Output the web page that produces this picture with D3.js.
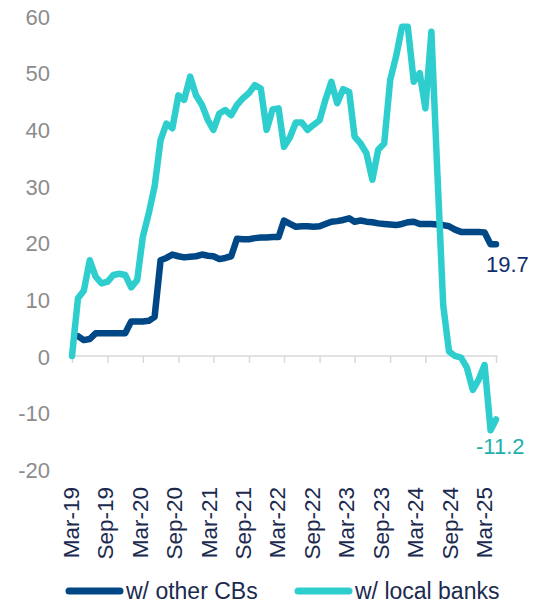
<!DOCTYPE html>
<html>
<head>
	<meta charset="UTF-8">
	<title>Other CBs vs local banks</title>
	<script src="https://cdnjs.cloudflare.com/ajax/libs/d3/7.8.5/d3.min.js"></script>
	<style>
		body { margin: 0; background: #fff; }
		text { font-family: "Liberation Sans", Arial, sans-serif; }
	</style>
</head>
<body>
	<script>
		// monthly series, Mar-19 .. Mar-25
		var start = new Date(2019, 2, 1), end = new Date(2025, 2, 1);
		var months = d3.timeMonths(start, new Date(2025, 3, 1));

		var otherCBs = [null, 3.5, 2.8, 3.0, 4.0, 4.0, 4.0, 4.0, 4.0, 4.0,
			6.1, 6.1, 6.1, 6.2, 6.9, 16.9, 17.3, 17.9, 17.6, 17.4,
			17.5, 17.6, 17.9, 17.7, 17.6, 17.1, 17.3, 17.6, 20.7, 20.6,
			20.6, 20.8, 20.9, 20.9, 21.0, 21.0, 23.9, 23.3, 22.8, 22.9,
			22.9, 22.8, 22.9, 23.3, 23.7, 23.8, 24.0, 24.3, 23.7, 23.9,
			23.7, 23.6, 23.4, 23.3, 23.2, 23.1, 23.3, 23.6, 23.7, 23.3,
			23.3, 23.3, 23.2, 23.1, 22.9, 22.3, 21.9, 21.9, 21.9, 21.9,
			21.8, 19.7, 19.7];

		var localBanks = [0, 10.2, 11.5, 16.9, 14.0, 12.8, 13.1, 14.3, 14.5, 14.3,
			12.1, 13.4, 21.0, 25.2, 29.9, 38.1, 41.0, 40.2, 46.0, 45.2,
			49.3, 46.0, 44.3, 41.6, 39.9, 42.8, 43.4, 42.5, 44.3, 45.5,
			46.4, 47.8, 47.2, 39.9, 43.5, 43.7, 36.9, 38.6, 41.2, 41.2,
			39.9, 40.8, 41.6, 45.2, 48.4, 44.6, 47.1, 46.6, 38.7, 37.5,
			35.8, 31.1, 36.4, 37.5, 48.7, 52.8, 58.1, 58.1, 48.4, 49.9,
			43.7, 57.2, 33.0, 9.0, 0.8, 0.0, -0.3, -2.0, -6.0, -4.2,
			-1.6, -13.1, -11.2];

		var tickLabels = ["Mar-19", "Sep-19", "Mar-20", "Sep-20", "Mar-21", "Sep-21", "Mar-22",
			"Sep-22", "Mar-23", "Sep-23", "Mar-24", "Sep-24", "Mar-25"];
		var yTicks = [-20, -10, 0, 10, 20, 30, 40, 50, 60];

		var seriesNames = ["w/ other CBs", "w/ local banks"];
		var colors = ["#004785", "#2ecece"];

		var W = 533, H = 603;

		var svg = d3.select("body").append("svg")
			.attr("width", W)
			.attr("height", H);

		// scales
		var x = d3.scaleTime().domain([start, end]).range([72, 496]);
		var xLab = d3.scaleTime().domain([start, end]).range([70.5, 484]);
		var y = d3.scaleLinear().domain([-20, 60]).range([469.3, 16]);

		var tickDates = tickLabels.map(function(d) { return d3.timeParse("%b-%y")(d); });

		// y labels
		svg.append("g").selectAll("text")
			.data(yTicks)
			.enter().append("text")
			.attr("x", 50)
			.attr("y", function(d) { return y(d); })
			.attr("dy", "0.4em")
			.attr("text-anchor", "end")
			.style("font-size", "22px")
			.style("fill", "#8c8c8c")
			.text(function(d) { return d; });

		// zero axis
		var axis = svg.append("g")
			.attr("transform", "translate(0," + y(0) + ")")
			.call(d3.axisBottom(x).tickValues(tickDates).tickSize(7).tickSizeOuter(0).tickFormat(""));
		axis.select(".domain").attr("stroke", "#d9d9d9").attr("stroke-width", 1.5)
			.attr("d", "M" + (x(start) - 1) + ",0H" + (x(end) + 1.5));
		axis.selectAll(".tick line").attr("stroke", "#d9d9d9").attr("stroke-width", 1.5);

		// x labels
		svg.append("g").selectAll("text")
			.data(tickDates)
			.enter().append("text")
			.attr("transform", function(d) { return "translate(" + xLab(d) + ",487) rotate(-90)"; })
			.attr("dy", "0.36em")
			.attr("text-anchor", "end")
			.style("font-size", "22.5px")
			.style("fill", "#1b2a4e")
			.text(function(d, i) { return tickLabels[i]; });

		// lines
		[otherCBs, localBanks].forEach(function(vals, k) {
			var line = d3.line()
				.defined(function(d) { return d != null; })
				.x(function(d, i) { return x(months[i]); })
				.y(function(d) { return y(d); });
			svg.append("path")
				.datum(vals)
				.attr("fill", "none")
				.attr("stroke", colors[k])
				.attr("stroke-width", 6.5)
				.attr("stroke-linejoin", "round")
				.attr("stroke-linecap", "round")
				.attr("d", line);
		});

		// end labels
		var last = months.length - 1;
		svg.append("text")
			.attr("x", x(months[last]) - 10)
			.attr("y", y(otherCBs[last]) + 28)
			.style("font-size", "22px")
			.style("fill", "#0f2f6b")
			.text(otherCBs[last].toFixed(1));
		svg.append("text")
			.attr("x", x(months[last]) - 20)
			.attr("y", y(localBanks[last]) + 35)
			.style("font-size", "22px")
			.style("fill", "#1fb0ae")
			.text(localBanks[last].toFixed(1));

		// legend
		var legX = [67, 296];
		var leg = svg.append("g").selectAll("g")
			.data(seriesNames)
			.enter().append("g")
			.attr("transform", function(d, i) { return "translate(" + legX[i] + ",591)"; });
		leg.append("line")
			.attr("x1", 2).attr("x2", 53)
			.attr("stroke", function(d, i) { return colors[i]; })
			.attr("stroke-width", 7)
			.attr("stroke-linecap", "round");
		leg.append("text")
			.attr("x", 59)
			.attr("dy", "0.36em")
			.style("font-size", "23px")
			.style("fill", "#1b2a4e")
			.text(function(d) { return d; });
	</script>
</body>
</html>
